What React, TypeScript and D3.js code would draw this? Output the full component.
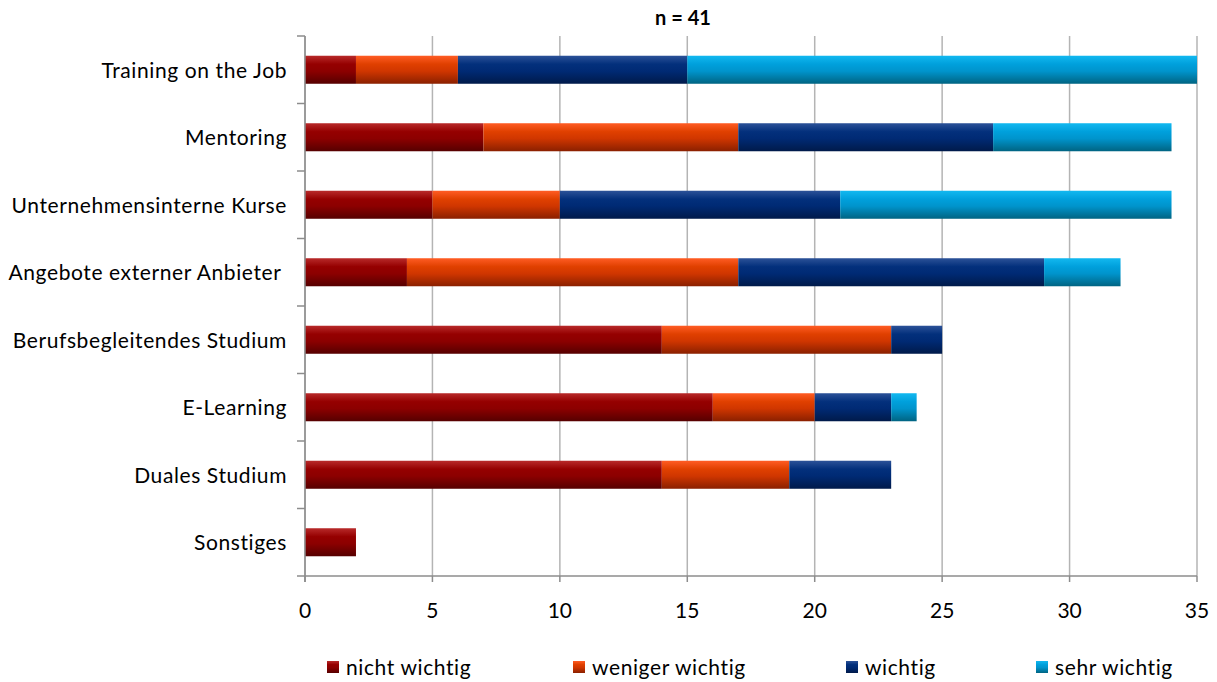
import React from "react";
import * as d3 from "d3";

const categories = [
  "Training on the Job",
  "Mentoring",
  "Unternehmensinterne Kurse",
  "Angebote externer Anbieter ",
  "Berufsbegleitendes Studium",
  "E-Learning",
  "Duales Studium",
  "Sonstiges",
];
const seriesNames = ["nicht wichtig", "weniger wichtig", "wichtig", "sehr wichtig"];
const nichtWichtig = [2, 7, 5, 4, 14, 16, 14, 2];
const wenigerWichtig = [4, 10, 5, 13, 9, 4, 5, 0];
const wichtig = [9, 10, 11, 12, 2, 3, 4, 0];
const sehrWichtig = [20, 7, 13, 3, 0, 1, 0, 0];
const xTicks = [0, 5, 10, 15, 20, 25, 30, 35];
const title = "n = 41";

const gradients = [
  ["#b82a2a", "#950000", "#8c0000", "#560000"],
  ["#ff5c24", "#e04000", "#d03600", "#8a2000"],
  ["#2c5298", "#03307c", "#002a74", "#001a4a"],
  ["#12b8f0", "#00a0dc", "#0094cc", "#006482"],
];

export default function App() {
  const W = 1217, H = 682;
  const left = 305, right = 1197, top = 36, bottom = 576;
  const x = d3.scaleLinear().domain([0, 35]).range([left, right]);
  const y = d3.scaleBand().domain(categories).range([top, bottom]).paddingInner(0.585).paddingOuter(0.2925);
  const values = [nichtWichtig, wenigerWichtig, wichtig, sehrWichtig];
  const rows = categories.map((c, i) => {
    const obj: any = { cat: c };
    seriesNames.forEach((s, k) => (obj[s] = values[k][i]));
    return obj;
  });
  const stacked = d3.stack<any>().keys(seriesNames)(rows);
  const font = "Lato, 'Open Sans', sans-serif";
  const bandStep = (bottom - top) / categories.length;
  const legendX = [327, 573, 846, 1036];
  const fs = 21;
  const ls = 0.6;
  return (
    <svg width={W} height={H} style={{ display: "block", position: "absolute", left: 0, top: 0 }}>
      <defs>
        {gradients.map((g, i) => (
          <linearGradient key={i} id={`g${i}`} x1="0" y1="0" x2="0" y2="1">
            <stop offset="0" stopColor={g[0]} />
            <stop offset="0.3" stopColor={g[1]} />
            <stop offset="0.55" stopColor={g[2]} />
            <stop offset="1" stopColor={g[3]} />
          </linearGradient>
        ))}
      </defs>
      <rect width={W} height={H} fill="#fff" />
      <text x={683} y={25} textAnchor="middle" fontFamily={font} fontWeight="bold" fontSize={20}>{title}</text>
      {xTicks.map((t) => (
        <line key={t} x1={x(t)} x2={x(t)} y1={top} y2={bottom} stroke="#b4b4b4" strokeWidth={1.5} />
      ))}
      {stacked.map((s, k) =>
        s.map((d, i) =>
          d[1] - d[0] > 0 ? (
            <rect key={`${k}-${i}`} x={x(d[0])} y={y(categories[i])!} width={x(d[1]) - x(d[0])} height={y.bandwidth()} fill={`url(#g${k})`} />
          ) : null
        )
      )}
      <line x1={left} x2={left} y1={top} y2={bottom + 6} stroke="#8c8c8c" strokeWidth={1.5} />
      <line x1={left - 8} x2={right} y1={bottom} y2={bottom} stroke="#8c8c8c" strokeWidth={1.5} />
      {d3.range(categories.length).map((i) => (
        <line key={i} x1={left - 8} x2={left} y1={top + i * bandStep} y2={top + i * bandStep} stroke="#8c8c8c" strokeWidth={1.5} />
      ))}
      {xTicks.map((t) => (
        <line key={`t${t}`} x1={x(t)} x2={x(t)} y1={bottom} y2={bottom + 6} stroke="#8c8c8c" strokeWidth={1.5} />
      ))}
      {xTicks.map((t) => (
        <text key={`l${t}`} x={x(t)} y={618} textAnchor="middle" fontFamily={font} fontSize={fs} fill="#000">{t}</text>
      ))}
      {categories.map((c) => (
        <text key={c} x={287} y={y(c)! + y.bandwidth() / 2 + 8} textAnchor="end" fontFamily={font} fontSize={fs} letterSpacing={ls} style={{ whiteSpace: "pre" }}>{c}</text>
      ))}
      {seriesNames.map((s, k) => (
        <g key={s}>
          <rect x={legendX[k]} y={661} width={12} height={12} fill={`url(#g${k})`} />
          <text x={legendX[k] + 19} y={675} fontFamily={font} fontSize={fs} letterSpacing={ls}>{s}</text>
        </g>
      ))}
    </svg>
  );
}
